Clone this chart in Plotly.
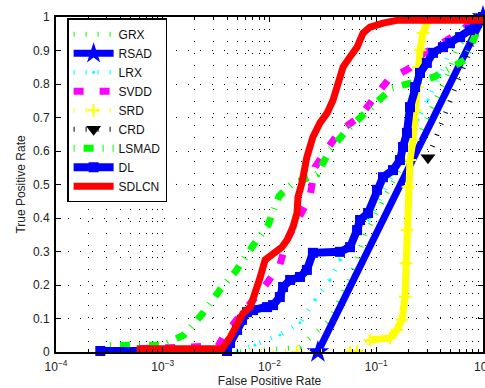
import plotly.graph_objects as go

# ---- data (FPR on log axis, TPR) ----
x_grx = [5.3e-3, 0.0193, 0.0369, 0.0568, 0.0661, 0.0785, 0.126, 0.257, 0.460, 0.570, 1.0]
y_grx = [0.0, 0.015, 0.096, 0.221, 0.281, 0.349, 0.475, 0.654, 0.827, 0.907, 1.0]

x_rsad = [0.0284, 1.0]
y_rsad = [0.0, 1.0]

x_lrx = [4.97e-3, 7.31e-3, 0.0125, 0.0193, 0.0267, 0.0369, 0.0457, 0.0568, 0.0705, 0.0873,
         0.1435, 0.207, 0.246, 0.305, 0.395, 0.547, 0.678, 1.0]
y_lrx = [0.003, 0.021, 0.051, 0.087, 0.155, 0.215, 0.275, 0.313, 0.364, 0.400,
         0.534, 0.633, 0.693, 0.752, 0.827, 0.931, 0.976, 1.0]

x_svdd = [6e-4, 3.3e-3, 3.83e-3, 5.89e-3, 9.5e-3, 0.0125, 0.0146, 0.0239, 0.0267, 0.0331,
          0.0457, 0.0705, 0.0953, 0.129, 0.207, 0.274, 0.413, 0.610, 0.841, 1.0]
y_svdd = [0.01, 0.018, 0.054, 0.125, 0.206, 0.260, 0.334, 0.463, 0.552, 0.597,
          0.660, 0.704, 0.761, 0.812, 0.848, 0.890, 0.922, 0.955, 0.994, 1.0]

x_srd = [8.1e-4, 0.0181, 0.0568, 0.0661, 0.0873, 0.1346, 0.156, 0.174, 0.186, 0.190, 0.194,
         0.198, 0.207, 0.221, 0.231, 0.241, 0.246, 0.257, 0.274, 0.298, 0.340, 1.0]
y_srd = [0.0, 0.0, 0.0, 0.003, 0.036, 0.042, 0.066, 0.096, 0.164, 0.266, 0.364,
         0.493, 0.573, 0.633, 0.722, 0.791, 0.851, 0.901, 0.952, 0.982, 1.0, 1.0]
srd_dense_from = 4

x_crd = [0.305, 1.0]
y_crd = [0.58, 1.0]

x_lsmad = [3.2e-4, 1.0e-3, 1.58e-3, 2.38e-3, 3.43e-3, 4.85e-3, 6.85e-3, 9.7e-3, 0.0123, 0.016,
           0.0279, 0.0369, 0.0532, 0.0802, 0.1406, 0.348, 0.678, 1.0]
y_lsmad = [0.02, 0.02, 0.051, 0.116, 0.185, 0.242, 0.313, 0.379, 0.466, 0.50,
           0.531, 0.603, 0.663, 0.716, 0.788, 0.821, 0.872, 1.0]

x_dl = [2.6e-4, 4.0e-3, 4.27e-3, 4.97e-3, 5.52e-3, 6.15e-3, 7.0e-3, 9.5e-3, 0.0108, 0.0125,
        0.0134, 0.0156, 0.0193, 0.0224, 0.0255, 0.0457, 0.0568, 0.0661, 0.0705, 0.0838,
        0.1017, 0.1156, 0.1435, 0.1667, 0.178, 0.194, 0.207, 0.231, 0.257, 0.298,
        0.340, 0.422, 0.491, 0.610, 0.755, 0.879, 1.0]
y_dl = [0.003, 0.003, 0.027, 0.066, 0.096, 0.119, 0.125, 0.134, 0.14, 0.164,
        0.194, 0.215, 0.224, 0.245, 0.296, 0.299, 0.313, 0.364, 0.394, 0.415,
        0.484, 0.522, 0.543, 0.573, 0.612, 0.654, 0.731, 0.791, 0.833, 0.863,
        0.893, 0.910, 0.922, 0.940, 0.961, 0.982, 1.0]

x_sdlcn = [5.7e-4, 3.6e-3, 4.3e-3, 5.65e-3, 6.6e-3, 7.6e-3, 8.2e-3, 9.1e-3, 0.0108, 0.0131,
           0.0146, 0.0166, 0.0181, 0.0185, 0.0201, 0.0224, 0.0255, 0.0297, 0.0346, 0.0394,
           0.0429, 0.0489, 0.0568, 0.0661, 0.0752, 0.0873, 0.116, 0.156, 1.0]
y_sdlcn = [0.01, 0.01, 0.045, 0.116, 0.134, 0.185, 0.224, 0.275, 0.296, 0.313,
           0.334, 0.373, 0.415, 0.463, 0.504, 0.582, 0.642, 0.684, 0.713, 0.752,
           0.791, 0.851, 0.881, 0.910, 0.952, 0.970, 0.982, 0.99, 0.99]

x_tickvals = [1e-4, 1e-3, 1e-2, 1e-1, 1]
x_ticktext = ["10<sup>\u22124</sup>", "10<sup>\u22123</sup>", "10<sup>\u22122</sup>",
              "10<sup>\u22121</sup>", "10<sup>0</sup>"]
x_minor = [m * 10.0 ** e for e in range(-4, 0) for m in range(2, 10)]
y_tickvals = [i / 10 for i in range(11)]
y_ticktext = ["0", "0.1", "0.2", "0.3", "0.4", "0.5", "0.6", "0.7", "0.8", "0.9", "1"]

GREEN = "#00ff00"
BLUE = "#0000ff"
DOT = "1px,11px"
FONT = "Liberation Sans, Arial, sans-serif"

fig = go.Figure()

fig.add_trace(go.Scatter(x=x_grx, y=y_grx, name="GRX", mode="lines",
                         line=dict(color=GREEN, width=5, dash=DOT)))
fig.add_trace(go.Scatter(x=x_rsad, y=y_rsad, name="RSAD", mode="lines+markers",
                         line=dict(color=BLUE, width=7),
                         marker=dict(symbol="star", size=17, color=BLUE),
                         cliponaxis=False))
fig.add_trace(go.Scatter(x=x_lrx, y=y_lrx, name="LRX", mode="lines+markers",
                         line=dict(color="#00ffff", width=5, dash=DOT),
                         marker=dict(size=3, color="#00ffff")))
fig.add_trace(go.Scatter(x=x_svdd, y=y_svdd, name="SVDD", mode="lines",
                         line=dict(color="#ff00ff", width=7, dash="10px,16px")))
fig.add_trace(go.Scatter(x=x_srd[:srd_dense_from + 1], y=y_srd[:srd_dense_from + 1],
                         name="SRD", legendgroup="srd", mode="lines+markers",
                         line=dict(color="#ffff00", width=5, dash=DOT),
                         marker=dict(symbol="cross-thin", size=9,
                                     line=dict(color="#ffff00", width=2))))
fig.add_trace(go.Scatter(x=x_srd[srd_dense_from:], y=y_srd[srd_dense_from:],
                         name="SRD", legendgroup="srd", showlegend=False, mode="lines+markers",
                         line=dict(color="#ffff00", width=7),
                         marker=dict(symbol="cross-thin", size=9,
                                     line=dict(color="#ffff00", width=2))))
fig.add_trace(go.Scatter(x=x_crd, y=y_crd, name="CRD", mode="lines+markers",
                         line=dict(color="black", width=5, dash=DOT),
                         marker=dict(symbol="triangle-down", size=13,
                                     color=["black", "rgba(0,0,0,0)"],
                                     line=dict(width=0)),
                         cliponaxis=False))
fig.add_trace(go.Scatter(x=x_lsmad, y=y_lsmad, name="LSMAD", mode="lines",
                         line=dict(color=GREEN, width=7, dash="1px,9px,10px,9px")))
fig.add_trace(go.Scatter(x=x_dl, y=y_dl, name="DL", mode="lines+markers",
                         line=dict(color=BLUE, width=8),
                         marker=dict(symbol="square", size=10, color=BLUE),
                         cliponaxis=False))
fig.add_trace(go.Scatter(x=x_sdlcn, y=y_sdlcn, name="SDLCN", mode="lines",
                         line=dict(color="#ff0000", width=7)))

axis_common = dict(
    showline=True, linewidth=2, linecolor="black", mirror="allticks",
    ticks="inside", ticklen=5, tickwidth=1, tickcolor="black",
    showgrid=True, gridcolor="black", gridwidth=1, griddash=DOT,
    zeroline=False, automargin=False, ticklabeloverflow="allow",
)

fig.update_xaxes(
    type="log", range=[-4, 0], tickmode="array",
    tickvals=x_tickvals, ticktext=x_ticktext,
    tickfont=dict(family=FONT, size=12, color="#222"),
    ticklabelstandoff=3,
    minor=dict(tickmode="array", tickvals=x_minor, ticks="inside", ticklen=3,
               tickcolor="black", showgrid=True, gridcolor="black", gridwidth=1,
               griddash=DOT),
    title=dict(text="False Positive Rate", standoff=3,
               font=dict(family=FONT, size=12, color="#222")),
    **axis_common,
)
fig.update_yaxes(
    range=[0, 1], tickmode="array", tickvals=y_tickvals, ticktext=y_ticktext,
    tickfont=dict(family=FONT, size=12, color="#222"),
    ticklabelstandoff=2,
    title=dict(text="True Positive Rate", standoff=5,
               font=dict(family=FONT, size=12, color="#222")),
    **axis_common,
)

fig.update_layout(
    width=485, height=388,
    margin=dict(l=56, r=2, t=17, b=36, pad=0),
    paper_bgcolor="white", plot_bgcolor="white",
    font=dict(family=FONT, size=11, color="#222"),
    legend=dict(x=0.026, y=0.996, xanchor="left", yanchor="top",
                bgcolor="white", bordercolor="black", borderwidth=1.5,
                font=dict(family=FONT, size=12, color="#111"), itemwidth=40,
                tracegroupgap=0),
    showlegend=True,
)

fig.write_html(
    "out.html",
    config={"displayModeBar": False},
    post_script="document.body.style.margin='0px';document.body.style.overflow='hidden';",
)
